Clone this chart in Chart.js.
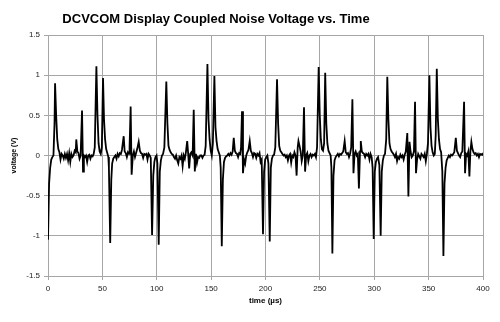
<!DOCTYPE html>
<html>
<head>
<meta charset="utf-8">
<script src="https://cdn.jsdelivr.net/npm/chart.js@4"></script>
<style>
  html, body { margin: 0; padding: 0; background: #fff; }
  #wrap { width: 500px; height: 322px; }
</style>
</head>
<body>
<div id="wrap"><canvas id="noiseChart" width="500" height="322"></canvas></div>
<script>
const timeUs = [
  0, 1, 2, 3, 4, 5, 6, 6.5, 7.5, 8.5, 9.5, 10.5, 11.5, 12.5, 13.5, 14.5, 15.5, 16.5, 17.5, 18.5,
  19.5, 20.5, 21.5, 22.5, 23.5, 24.5, 25.5, 26, 27, 28, 29, 30, 31.3, 32.2, 33, 34, 35, 36, 37, 38,
  39, 40, 41, 42, 43, 44.5, 45.5, 46.5, 47.5, 48.5, 49.5, 50.6, 51.5, 52.5, 53.5, 54.5, 55.5, 56, 57.2, 58.2,
  59, 60, 61, 62, 63, 64, 65, 66, 67, 68, 69.6, 70.5, 71.5, 72.5, 73.5, 74.5, 75, 76, 76.9, 78,
  79, 80, 81, 82, 83.4, 84.5, 85.5, 86.5, 87.5, 88.5, 89.5, 90.5, 91.5, 92.5, 93.5, 94.5, 95.7, 96.8, 97.8, 98.8,
  99.8, 100.6, 101.8, 102.8, 103.8, 104.8, 105.8, 107, 108.8, 109.8, 110.8, 111.8, 112.8, 113.8, 114.8, 115.8, 116.8, 117.8, 118.8, 119.8,
  120.8, 121.8, 122.8, 123.8, 124.8, 125.8, 126.8, 128, 128.8, 129.8, 130.8, 131.8, 133, 134, 135, 136, 137, 138, 139, 140,
  141, 142, 143, 144, 145, 146.6, 147.6, 148.6, 149.6, 150.6, 151.6, 153, 154, 155, 156, 157, 158, 158.8, 159.8, 160.8,
  161.8, 162.8, 163.8, 164.8, 165.8, 166.8, 167.8, 168.8, 169.8, 170.8, 171.8, 172.8, 173.8, 174.8, 175.8, 176.8, 177.5, 178.4, 179.3, 180.3,
  181.3, 182.3, 183.3, 184.3, 185.5, 186.5, 187.5, 188.5, 189.5, 190.5, 191.5, 192.5, 193.5, 194.5, 195.5, 196.5, 197.7, 198.7, 199.7, 200.7,
  201.7, 202.7, 203.9, 204.9, 205.9, 206.9, 207.9, 209, 210.6, 211.6, 212.6, 213.6, 214.6, 215.6, 216.6, 217.6, 218.6, 219.6, 220.6, 221.6,
  222.6, 223.6, 224.6, 225.6, 226.6, 227.6, 228.6, 229.6, 230.3, 231.3, 232.3, 233.3, 234.3, 235.4, 236.4, 237.4, 238.4, 239.4, 240.4, 241.4,
  242.4, 243.4, 244.4, 245.4, 246.4, 247.4, 248.9, 249.9, 250.9, 251.9, 252.9, 253.9, 254.9, 255.9, 256.9, 257.9, 258.9, 259.9, 260.6, 261.5,
  262.5, 263.5, 264.5, 265.5, 266.5, 267.5, 268.5, 269.5, 270.5, 271.5, 272.8, 273.8, 274.8, 275.8, 276.8, 277.8, 278.8, 279.9, 280.9, 281.9,
  282.9, 283.9, 284.9, 285.9, 286.9, 287.6, 288.6, 289.6, 290.6, 291.6, 292.6, 293.6, 294.6, 295.6, 296.6, 297.6, 298.5, 299.5, 300.5, 301.5,
  302.5, 303.5, 304.7, 305.9, 306.9, 307.9, 308.9, 309.9, 311, 312, 313, 314, 315, 316, 317, 318, 319, 320, 321, 322,
  323, 324, 325, 326, 327, 328, 329, 330.4, 331.4, 332.4, 333.4, 334.4, 335.4, 336.5, 337.5, 338.4, 339.4, 340.4, 341.4, 342.4,
  343.4, 344.4, 345.4, 346.4, 347.4, 348.4, 349.4, 350.7, 351.7, 352.7, 353.7, 354.7, 355.7, 356.5, 357.5, 358.5, 359.5, 360.5, 361.5, 362.6,
  363.6, 364.6, 365.6, 366.6, 367.6, 368.6, 369.6, 370.6, 371.6, 372.6, 373.6, 375, 376, 377, 378, 379, 380, 381, 382.6, 383.5,
  384.5, 385.5, 386.5, 387.5, 388.4, 389.3, 390.3, 391.3, 392.3, 393.3, 394.3, 395.3, 396.3, 397.3, 398.3, 399.3, 400
];

const voltage = [
  -1.05, -0.35, -0.15, -0.05, -0.02, 0, 0.4, 0.9, 0.5, 0.2, 0.08, 0.04, -0.05, 0.02, 0, -0.04, 0.02, -0.03, 0.02, -0.06,
  0.03, -0.08, 0.02, -0.02, 0, 0.06, 0.04, 0.2, 0.05, 0.03, -0.04, 0, 0.56, -0.2, 0, -0.02, 0, -0.08, 0, 0.01,
  -0.04, 0, -0.01, 0.02, 0.1, 1.11, 0.5, 0.15, 0.05, 0.02, 0.1, 0.965, 0.45, 0.2, 0.08, 0.03, -0.02, -0.15, -1.09, -0.3,
  -0.1, -0.04, -0.02, 0, -0.04, 0.02, -0.01, 0.03, 0.02, 0.07, 0.24, 0.05, 0.03, -0.02, 0.04, 0.02, 0.1, 0.61, -0.24, 0,
  0.05, -0.02, 0.03, 0.08, 0.17, 0.06, 0.03, 0.02, -0.03, 0.02, 0.01, 0.02, -0.05, 0.02, 0, -0.03, -0.99, -0.25, -0.08, -0.02,
  0, -0.1, -1.11, -0.2, -0.06, 0, 0.02, 0.1, 0.92, 0.4, 0.12, 0.07, 0.04, 0.02, 0.01, -0.02, -0.04, 0, -0.06, -0.1,
  -0.02, -0.04, 0, -0.13, 0, -0.04, 0.04, 0.18, 0.04, -0.16, 0.02, 0.04, 0, 0.57, -0.2, 0.02, -0.09, -0.02, -0.03, 0,
  0, -0.03, 0, 0.01, 0.12, 1.14, 0.45, 0.2, 0.06, 0, 0.15, 0.99, 0.35, 0.18, 0.08, 0.04, 0, -0.15, -1.13, -0.3,
  -0.08, -0.03, -0.01, 0, 0.02, 0, 0.03, 0.01, 0.05, 0.22, 0.06, 0.03, 0.02, -0.02, 0.03, 0.02, 0.1, 0.55, -0.22, -0.05,
  -0.1, 0, 0.04, 0.07, 0.18, 0.06, 0.03, -0.02, 0.03, 0.02, -0.03, 0.02, 0, 0.03, -0.08, -0.05, -0.98, -0.2, -0.05, -0.02,
  0, -0.1, -1.07, -0.15, -0.04, 0, 0.01, 0.1, 0.95, 0.4, 0.12, 0.06, 0.04, 0.02, 0, 0.01, -0.02, 0, -0.06, 0,
  0.02, -0.09, 0, -0.02, 0.04, 0, -0.25, 0.1, 0.18, 0.12, 0.05, -0.07, 0, 0.6, -0.2, 0, 0.03, -0.07, 0, 0.02,
  -0.02, 0.01, 0, 0.02, -0.02, 0.1, 1.1, 0.5, 0.2, 0.08, 0.06, 0.15, 1.03, 0.4, 0.15, 0.06, 0.03, 0, -0.15, -1.22,
  -0.25, -0.06, -0.02, 0, 0.02, -0.01, 0.02, 0.01, 0.03, 0.05, 0.18, 0.04, 0.02, 0.03, -0.02, 0.02, 0.1, 0.7, -0.22, 0.02,
  0.05, 0, 0.02, -0.41, 0.05, 0.18, 0.05, 0.03, 0.02, -0.02, 0.02, 0, 0.02, -0.05, 0.02, -0.02, -0.15, -1.04, -0.2, -0.08,
  -0.04, -0.02, -0.12, -1.0, -0.2, -0.06, 0, 0.02, 0.2, 0.98, 0.45, 0.15, 0.08, 0.05, 0.03, 0.01, -0.02, 0.02, -0.07, -0.02,
  -0.04, 0.01, -0.02, 0, -0.05, 0.01, 0.05, 0.28, -0.51, 0.17, 0.05, -0.02, 0, 0.05, 0.67, -0.22, -0.05, 0.02, -0.01, -0.04,
  0.02, 0, -0.02, 0.02, -0.07, 0.02, 0.15, 1.0, 0.35, 0.12, 0.04, 0, 0.02, 0.25, 1.08, 0.45, 0.2, 0.08, 0.04, -0.2,
  -1.25, -0.35, -0.15, -0.06, -0.03, 0, -0.02, 0.01, 0, 0.02, 0.04, 0.22, 0.06, 0.03, 0, -0.02, 0.03, 0.05, 0.67, -0.22,
  0.02, 0, 0.05, -0.26, 0.05, 0.17, 0.08, 0.04, 0.02, 0.03, 0, 0.02, -0.02, 0.02, 0.01, 0.02, 0
];

const xTicks = { min: 0, max: 400, step: 50 };
const yTicks = { min: -1.5, max: 1.5, step: 0.5 };

const chartTitle = "DCVCOM Display Coupled Noise Voltage vs. Time";
const xLabel = "time (\u00b5s)";
const yLabel = "voltage (V)";

const gridColor = "#a6a6a6";
const textColor = "#222";
const fontFamily = "'Liberation Sans', Arial, sans-serif";

// title sits left of centre in the original, so it is drawn by hand
const titlePlugin = {
  id: "leftTitle",
  afterDraw(chart) {
    const ctx = chart.ctx;
    ctx.save();
    ctx.font = "bold 13px " + fontFamily;
    ctx.fillStyle = "#000";
    ctx.textAlign = "center";
    ctx.textBaseline = "middle";
    ctx.fillText(chartTitle, 216, 19);
    ctx.restore();
  }
};

const points = timeUs.map((t, i) => ({ x: t, y: voltage[i] }));

new Chart(document.getElementById("noiseChart"), {
  type: "line",
  data: {
    datasets: [{
      data: points,
      borderColor: "#000",
      borderWidth: 1.8,
      pointRadius: 0,
      tension: 0,
      fill: false
    }]
  },
  options: {
    responsive: false,
    animation: false,
    layout: { padding: { top: 35, right: 17, left: 0, bottom: 0 } },
    plugins: {
      legend: { display: false },
      tooltip: { enabled: false }
    },
    scales: {
      x: {
        type: "linear",
        min: xTicks.min,
        max: xTicks.max,
        afterFit(scale) { scale.height = 46; },
        ticks: {
          stepSize: xTicks.step,
          color: textColor,
          font: { family: fontFamily, size: 8 },
          padding: 4,
          maxRotation: 0
        },
        grid: { color: gridColor, lineWidth: 1, tickLength: 4 },
        border: { color: gridColor },
        title: {
          display: true,
          text: xLabel,
          color: "#000",
          font: { family: fontFamily, size: 8, weight: "bold" },
          padding: { top: 4, bottom: 16 }
        }
      },
      y: {
        min: yTicks.min,
        max: yTicks.max,
        afterFit(scale) { scale.width = 48; },
        ticks: {
          stepSize: yTicks.step,
          color: textColor,
          font: { family: fontFamily, size: 8 },
          padding: 4,
          callback: (v) => String(Math.round(v * 10) / 10)
        },
        grid: { color: gridColor, lineWidth: 1, tickLength: 4 },
        border: { color: gridColor },
        title: {
          display: true,
          text: yLabel,
          color: "#000",
          font: { family: fontFamily, size: 7, weight: "bold" },
          padding: { top: 10, bottom: 0 }
        }
      }
    }
  },
  plugins: [titlePlugin]
});
</script>
</body>
</html>
